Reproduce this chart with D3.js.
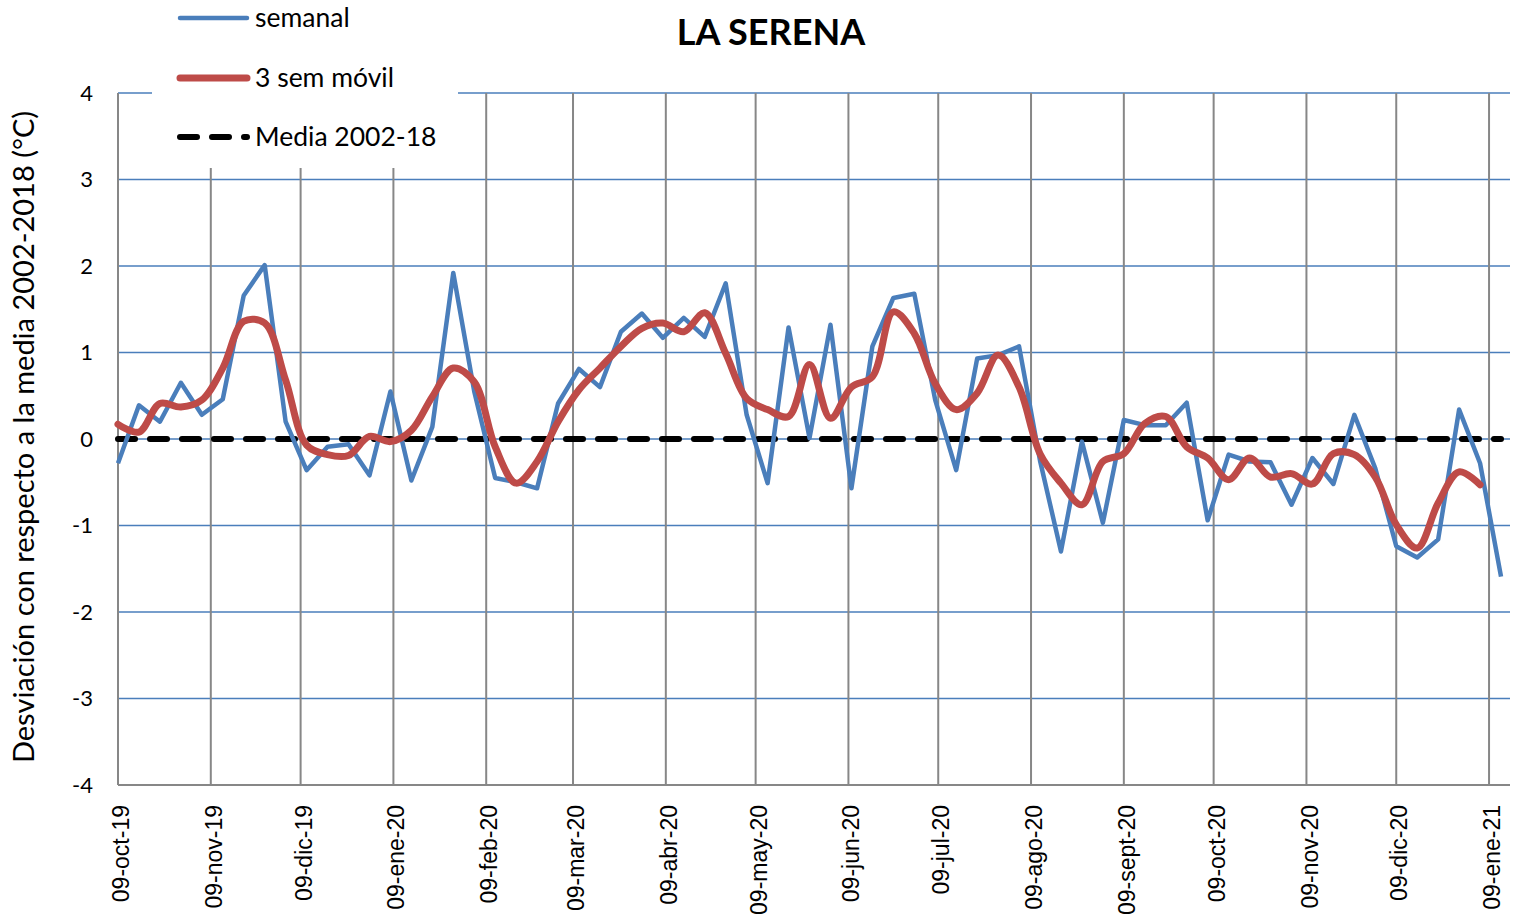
<!DOCTYPE html>
<html>
<head>
<meta charset="utf-8">
<script src="https://cdn.jsdelivr.net/npm/d3@7"></script>
<style>
  body { margin: 0; background: #fff; }
  svg { display: block; }
</style>
</head>
<body>
<svg id="chart"></svg>
<script>
// weekly anomaly values, La Serena (°C vs 2002-2018 mean)
var startDate = new Date(2019, 9, 9);
var semanal = [-0.28, 0.39, 0.2, 0.65, 0.28, 0.46, 1.66, 2.01, 0.2, -0.36,
    -0.09, -0.06, -0.42, 0.55, -0.48, 0.14, 1.92, 0.55, -0.45, -0.5,
    -0.57, 0.41, 0.81, 0.6, 1.24, 1.45, 1.17, 1.4, 1.18, 1.8,
    0.28, -0.51, 1.29, 0.01, 1.32, -0.57, 1.07, 1.63, 1.68, 0.45,
    -0.36, 0.93, 0.97, 1.07, -0.25, -1.3, -0.03, -0.97, 0.22, 0.16,
    0.16, 0.42, -0.94, -0.18, -0.26, -0.27, -0.76, -0.22, -0.52, 0.28,
    -0.34, -1.24, -1.37, -1.16, 0.34, -0.28, -1.59];
var movil3 = [0.17, 0.08, 0.41, 0.37, 0.45, 0.82, 1.36, 1.34, 0.68, -0.07,
    -0.18, -0.19, 0.03, -0.03, 0.1, 0.49, 0.82, 0.66, -0.09, -0.51,
    -0.26, 0.2, 0.57, 0.82, 1.07, 1.28, 1.34, 1.24, 1.46, 0.99,
    0.47, 0.34, 0.26, 0.86, 0.24, 0.6, 0.72, 1.47, 1.22, 0.64,
    0.34, 0.53, 0.97, 0.6, -0.17, -0.51, -0.76, -0.26, -0.17, 0.18,
    0.26, -0.09, -0.22, -0.47, -0.22, -0.44, -0.4, -0.52, -0.17, -0.18,
    -0.44, -0.99, -1.26, -0.74, -0.38, -0.53];
var media = semanal.map(function () { return 0; });
var tickLabels = ["09-oct-19", "09-nov-19", "09-dic-19", "09-ene-20", "09-feb-20",
    "09-mar-20", "09-abr-20", "09-may-20", "09-jun-20", "09-jul-20", "09-ago-20",
    "09-sept-20", "09-oct-20", "09-nov-20", "09-dic-20", "09-ene-21"];
var yTicks = [-4, -3, -2, -1, 0, 1, 2, 3, 4];

(function () {
    var width = 1521,
        height = 918,
        pLeft = 118, pRight = 1510, pTop = 93, pBottom = 785,
        blue = "#4a7ebb", red = "#be4b48", grey = "#878787",
        calibri = "Lato, 'Open Sans', sans-serif",
        arial = "'Liberation Sans', Arial, sans-serif";

    function weekDate(i) { return d3.timeDay.offset(startDate, 7 * i); }
    var tickDates = tickLabels.map(function (d, i) { return d3.timeMonth.offset(startDate, i); });

    var x = d3.scaleTime().domain([startDate, new Date(2021, 0, 16)]).range([pLeft, pRight]),
        y = d3.scaleLinear().domain([-4, 4]).range([pBottom, pTop]);

    var svg = d3.select("#chart").attr("width", width).attr("height", height);

    // horizontal grid
    svg.append("g").selectAll("line").data(yTicks.filter(function (d) { return d > -4; })).enter()
        .append("line")
        .attr("x1", pLeft).attr("x2", pRight)
        .attr("y1", function (d) { return y(d); }).attr("y2", function (d) { return y(d); })
        .style("stroke", blue).style("stroke-width", 1.5);

    // vertical grid
    svg.append("g").selectAll("line").data(tickDates).enter()
        .append("line")
        .attr("x1", function (d) { return x(d); }).attr("x2", function (d) { return x(d); })
        .attr("y1", pTop).attr("y2", pBottom)
        .style("stroke", grey).style("stroke-width", 2);

    // x axis baseline
    svg.append("line").attr("x1", pLeft).attr("x2", pRight).attr("y1", pBottom).attr("y2", pBottom)
        .style("stroke", grey).style("stroke-width", 2);

    // y tick labels
    svg.append("g").selectAll("text").data(yTicks).enter()
        .append("text")
        .attr("x", 93).attr("y", function (d) { return y(d); }).attr("dy", "0.35em")
        .attr("text-anchor", "end")
        .style("font-family", calibri).style("font-size", "22px")
        .text(function (d) { return d; });

    // x tick labels
    svg.append("g").selectAll("text").data(tickDates).enter()
        .append("text")
        .attr("transform", function (d) { return "translate(" + (x(d) + 3) + "," + (pBottom + 20) + ") rotate(-90)"; })
        .attr("dy", "0.35em")
        .attr("text-anchor", "end")
        .style("font-family", arial).style("font-size", "23px")
        .text(function (d, i) { return tickLabels[i]; });

    var line = d3.line().x(function (d, i) { return x(weekDate(i)); }).y(function (d) { return y(d); });

    svg.append("path").datum(media).attr("d", line)
        .style("fill", "none").style("stroke", "#000").style("stroke-width", 6)
        .style("stroke-dasharray", "17,15").style("stroke-linecap", "round");

    svg.append("path").datum(semanal).attr("d", line)
        .style("fill", "none").style("stroke", blue).style("stroke-width", 4.5)
        .style("stroke-linejoin", "round");

    svg.append("path").datum(movil3).attr("d", line.curve(d3.curveCatmullRom.alpha(0.5)))
        .style("fill", "none").style("stroke", red).style("stroke-width", 7)
        .style("stroke-linecap", "round");

    // legend (white box over the plot)
    var legend = svg.append("g");
    legend.append("rect").attr("x", 152).attr("y", 0).attr("width", 306).attr("height", 168).style("fill", "#fff");
    var legendItems = [
        { label: "semanal", color: blue, w: 4.5, dash: null, y: 18 },
        { label: "3 sem móvil", color: red, w: 7, dash: null, y: 78 },
        { label: "Media 2002-18", color: "#000", w: 6, dash: "17,15", y: 137 }
    ];
    legendItems.forEach(function (d) {
        legend.append("line").attr("x1", 180).attr("x2", 247).attr("y1", d.y).attr("y2", d.y)
            .style("stroke", d.color).style("stroke-width", d.w).style("stroke-linecap", "round")
            .style("stroke-dasharray", d.dash);
        legend.append("text").attr("x", 255).attr("y", d.y).attr("dy", "0.35em")
            .style("font-family", calibri).style("font-size", "26.5px").text(d.label);
    });

    // title
    svg.append("text").attr("x", 771).attr("y", 45).attr("text-anchor", "middle")
        .style("font-family", calibri).style("font-weight", "bold").style("font-size", "36px")
        .text("LA SERENA");

    // y axis title
    svg.append("text").attr("transform", "translate(24,437) rotate(-90)")
        .attr("dy", "0.35em").attr("text-anchor", "middle")
        .style("font-family", calibri).style("font-size", "29px")
        .text("Desviación con respecto a la media 2002-2018 (°C)");
})();
</script>
</body>
</html>
